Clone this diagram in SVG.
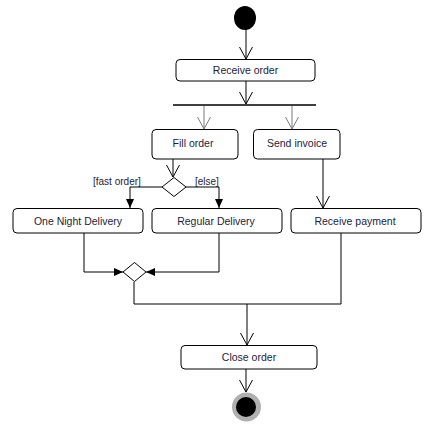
<svg xmlns="http://www.w3.org/2000/svg" width="431" height="431" viewBox="0 0 431 431">
<style>
.box{fill:#fff;stroke:#000;stroke-width:1}
.lbl{font-family:"Liberation Sans",Arial,sans-serif;font-size:10.5px;fill:#1c1c3c;text-anchor:middle}
.guard{font-family:"Liberation Sans",Arial,sans-serif;font-size:10px;fill:#1c1c3c}
.c{fill:none;stroke:#000;stroke-width:1}
.g{fill:none;stroke:#7a7a7a;stroke-width:1}
</style>
<defs>
<marker id="open" viewBox="0 0 12 14" refX="12" refY="7" markerWidth="12" markerHeight="14" markerUnits="userSpaceOnUse" orient="auto">
<path d="M0,0.5 L12,7 L0,13.5" fill="none" stroke="#000" stroke-width="1"/>
</marker>
<marker id="openg" viewBox="0 0 12 14" refX="12" refY="7" markerWidth="12" markerHeight="14" markerUnits="userSpaceOnUse" orient="auto">
<path d="M0,0.5 L12,7 L0,13.5" fill="none" stroke="#7a7a7a" stroke-width="1"/>
</marker>
<marker id="fill" viewBox="0 0 9 8" refX="9" refY="4" markerWidth="9" markerHeight="8" markerUnits="userSpaceOnUse" orient="auto">
<path d="M0,0 L9,4 L0,8 Z" fill="#000"/>
</marker>
</defs>
<g id="connectors">
<path class="c" d="M246,29 L246,59" marker-end="url(#open)"/>
<path class="c" d="M246,81 L246,104" marker-end="url(#open)"/>
<path class="g" d="M204,106 L204,129" marker-end="url(#openg)"/>
<path class="g" d="M292,106 L292,129" marker-end="url(#openg)"/>
<path class="c" d="M173,159 L173,177" marker-end="url(#open)"/>
<path class="c" d="M162,187 L130,187 L130,208" marker-end="url(#fill)"/>
<path class="c" d="M186,187 L219,187 L219,208" marker-end="url(#fill)"/>
<path class="c" stroke="#444" d="M323,159 L323,208" marker-end="url(#open)"/>
<path class="c" d="M84,233 L84,272 L123,272" marker-end="url(#fill)"/>
<path class="c" d="M219,233 L219,272 L146,272" marker-end="url(#fill)"/>
<path class="c" d="M134,282 L134,304 L341,304 L341,233"/>
<path class="c" d="M247,304 L247,345" marker-end="url(#open)"/>
<path class="c" d="M246,369 L246,392" marker-end="url(#open)"/>
<text class="guard" x="93" y="185">[fast order]</text>
<text class="guard" x="195" y="185">[else]</text>
</g>
<g id="start"><ellipse cx="245" cy="18" rx="11" ry="12" fill="#000"/></g>
<g id="receive-order"><rect class="box" x="176" y="59.5" width="139" height="21.5" rx="4"/><text class="lbl" x="245.5" y="74">Receive order</text></g>
<g id="fork"><line x1="173" y1="105" x2="316" y2="105" stroke="#000" stroke-width="1.5"/></g>
<g id="fill-order"><rect class="box" x="152" y="129.5" width="86" height="29.5" rx="4"/><text class="lbl" x="193" y="147">Fill order</text></g>
<g id="send-invoice"><rect class="box" x="253.5" y="129.5" width="86.5" height="29.5" rx="4"/><text class="lbl" x="297" y="147">Send invoice</text></g>
<g id="decision"><path d="M174,177.5 L186,187 L174,196.5 L162,187 Z" fill="#fff" stroke="#000" stroke-width="1"/></g>
<g id="one-night"><rect class="box" x="13" y="208.5" width="130" height="24.5" rx="4"/><text class="lbl" x="78" y="225">One Night Delivery</text></g>
<g id="regular"><rect class="box" x="152" y="208.5" width="130" height="24.5" rx="4"/><text class="lbl" x="216" y="225">Regular Delivery</text></g>
<g id="receive-payment"><rect class="box" x="291" y="208.5" width="130" height="24.5" rx="4"/><text class="lbl" x="355" y="225">Receive payment</text></g>
<g id="merge"><path d="M134.5,262.5 L146,272 L134.5,281.5 L123,272 Z" fill="#fff" stroke="#000" stroke-width="1"/></g>
<g id="close-order"><rect class="box" x="181" y="345.5" width="136" height="23.5" rx="4"/><text class="lbl" x="249" y="361">Close order</text></g>
<g id="end"><circle cx="246.5" cy="407" r="14.5" fill="#b0b0b0"/><circle cx="246" cy="407" r="10" fill="#000"/></g>
</svg>
